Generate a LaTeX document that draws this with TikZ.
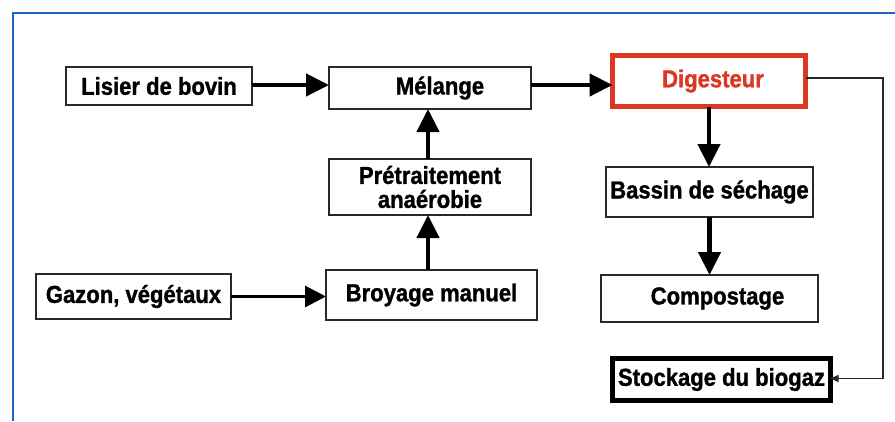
\documentclass[tikz,border=0pt]{standalone}
\usepackage{fontspec}
\setmainfont{Liberation Sans}[FakeStretch=0.9,BoldFeatures={FakeBold=1.2}]
\usetikzlibrary{arrows.meta,calc}
\definecolor{frameblue}{RGB}{25,105,190}
\definecolor{digred}{RGB}{220,55,35}
\definecolor{boxgray}{RGB}{40,40,40}
\begin{document}
\begin{tikzpicture}[x=1pt,y=-1pt,
  box/.style={draw=boxgray,line width=1.4pt,fill=white,inner sep=0pt,outer sep=0pt,
    align=center,font=\fontsize{24.5}{24}\selectfont\bfseries},
  bigarrow/.style={line width=4.5pt,-{Triangle[length=23pt,width=22pt]}},
  midarrow/.style={line width=3pt,-{Triangle[length=21pt,width=21pt]}},
  thinarrow/.style={line width=1.4pt,draw=boxgray,-{Triangle[length=8pt,width=7pt]}}]
\useasboundingbox (0,0) rectangle (895,421);
\fill[white] (0,0) rectangle (895,421);
% blue frame
\draw[frameblue,line width=2pt] (13,421) -- (13,13) -- (896,13);
% nodes
\node[box,minimum width=186pt,minimum height=38pt] (lis) at (159,86) {Lisier de bovin};
\node[box,minimum width=202pt,minimum height=42pt] (mel) at (430,88) {\hspace*{20pt}Mélange};
\node[box,minimum width=202pt,minimum height=56pt] (pre) at (430,187) {Prétraitement\\anaérobie};
\node[box,minimum width=195pt,minimum height=45pt] (gaz) at (133.5,296.5) {Gazon, végétaux};
\node[box,minimum width=211pt,minimum height=50pt] (bro) at (431.5,295) {Broyage manuel};
\node[box,draw=digred,line width=5pt,text=digred,minimum width=193pt,minimum height=51pt] (dig) at (709,81) {\hspace*{8pt}Digesteur};
\node[box,minimum width=207pt,minimum height=50pt] (bas) at (709.5,192) {Bassin de séchage};
\node[box,minimum width=217pt,minimum height=47pt] (com) at (709.5,298.5) {\hspace*{16pt}Compostage};
\node[box,line width=5pt,draw=black,minimum width=218pt,minimum height=42pt] (sto) at (721.5,379.5) {Stockage du biogaz};
\coordinate (turn) at (883,230);
% connectors
\draw[bigarrow] ([yshift=1pt]lis.east) -- ([yshift=1pt]lis.east -| mel.west);
\draw[bigarrow] ([yshift=3pt]mel.east) -- ([yshift=3pt]mel.east -| dig.west);
\draw[bigarrow] ([xshift=-2pt]pre.north) -- ([xshift=-2pt]mel.south);
\draw[bigarrow] (bro.north -| pre.south) ++(-2pt,0) -- ([xshift=-2pt]pre.south);
\draw[midarrow] (gaz.east) -- (gaz.east -| bro.west);
\draw[bigarrow] (dig.south) -- (dig.south |- bas.north);
\draw[bigarrow] (bas.south) -- (bas.south |- com.north);
\draw[thinarrow] ([yshift=3pt]dig.east) -| (turn) |- ([yshift=1pt]sto.east);
\end{tikzpicture}
\end{document}
